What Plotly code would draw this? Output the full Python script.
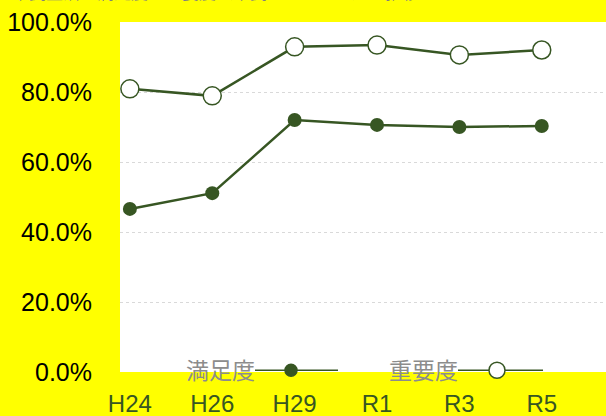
import plotly.graph_objects as go

categories = ["H24", "H26", "H29", "R1", "R3", "R5"]
satisfaction = [0.466, 0.511, 0.720, 0.706, 0.700, 0.703]
importance = [0.809, 0.789, 0.929, 0.934, 0.906, 0.920]
y_ticks = [0, 0.2, 0.4, 0.6, 0.8, 1.0]
series_names = ["満足度", "重要度"]
title_text = "市民生活の満足度と重要度（市民アンケート）の推移"

green = "#375623"
font_family = "Liberation Sans, Arial, Noto Sans CJK JP, sans-serif"

fig = go.Figure()
fig.add_trace(go.Scatter(
    x=categories, y=satisfaction, mode="lines+markers", name=series_names[0],
    line=dict(color=green, width=2.5),
    marker=dict(symbol="circle", size=14, color=green),
    showlegend=False,
))
fig.add_trace(go.Scatter(
    x=categories, y=importance, mode="lines+markers", name=series_names[1],
    line=dict(color=green, width=2.5),
    marker=dict(symbol="circle", size=18, color="white", line=dict(color=green, width=1.5)),
    showlegend=False,
))

# Custom legend (text left of symbol, as in the original)
legend_items = [
    (series_names[0], 255, 338, 291, "filled"),
    (series_names[1], 458, 543, 497, "open"),
]
plot_left, plot_w = 120, 486
ly = 0.005
for name, lx0, lx1, mx, kind in legend_items:
    fig.add_annotation(
        x=(lx0 - plot_left) / plot_w, y=ly, xref="paper", yref="paper",
        xanchor="right", yanchor="middle", text=name, showarrow=False,
        yshift=-1, xshift=2,
        font=dict(size=23, color="#8c8c8c", family=font_family),
    )
    fig.add_shape(type="line", xref="paper", yref="paper",
                  x0=(lx0 - plot_left) / plot_w, x1=(lx1 - plot_left) / plot_w,
                  y0=ly, y1=ly, line=dict(color=green, width=1.5))
    r = 6 if kind == "filled" else 8
    fig.add_shape(type="circle", xref="paper", yref="paper",
                  xsizemode="pixel", ysizemode="pixel",
                  xanchor=(mx - plot_left) / plot_w, yanchor=ly,
                  x0=-r, x1=r, y0=-r, y1=r,
                  fillcolor=green if kind == "filled" else "white",
                  line=dict(color=green, width=1.5))

# Title, mostly cut off at the top as in the original
fig.add_annotation(
    x=(10 - plot_left) / plot_w, y=1, xref="paper", yref="paper",
    xanchor="left", yanchor="bottom",
    text=title_text, showarrow=False, yshift=17,
    font=dict(size=17, color="#7f7f7f", family=font_family),
)

fig.update_layout(
    width=606, height=416,
    margin=dict(l=120, r=0, t=22, b=44, autoexpand=False),
    paper_bgcolor="#FFFF00",
    plot_bgcolor="white",
    font=dict(family=font_family),
    xaxis=dict(
        type="category", range=[-0.12, 5.78], automargin=False,
        showgrid=False, showline=False, zeroline=False,
        ticks="outside", ticklen=10, tickcolor="rgba(0,0,0,0)",
        tickfont=dict(size=24, color=green),
    ),
    yaxis=dict(
        range=[0, 1.0], tickvals=y_ticks, tickformat=".1%", automargin=False,
        showgrid=True, gridcolor="#d9d9d9", griddash="dot", gridwidth=1,
        zeroline=False, showline=False,
        ticks="outside", ticklen=22, tickcolor="rgba(0,0,0,0)",
        tickfont=dict(size=25, color="black"),
    ),
)

fig.write_html(
    "out.html",
    config={"displayModeBar": False},
    post_script="document.body.style.margin='0';document.body.style.overflow='hidden';",
)
